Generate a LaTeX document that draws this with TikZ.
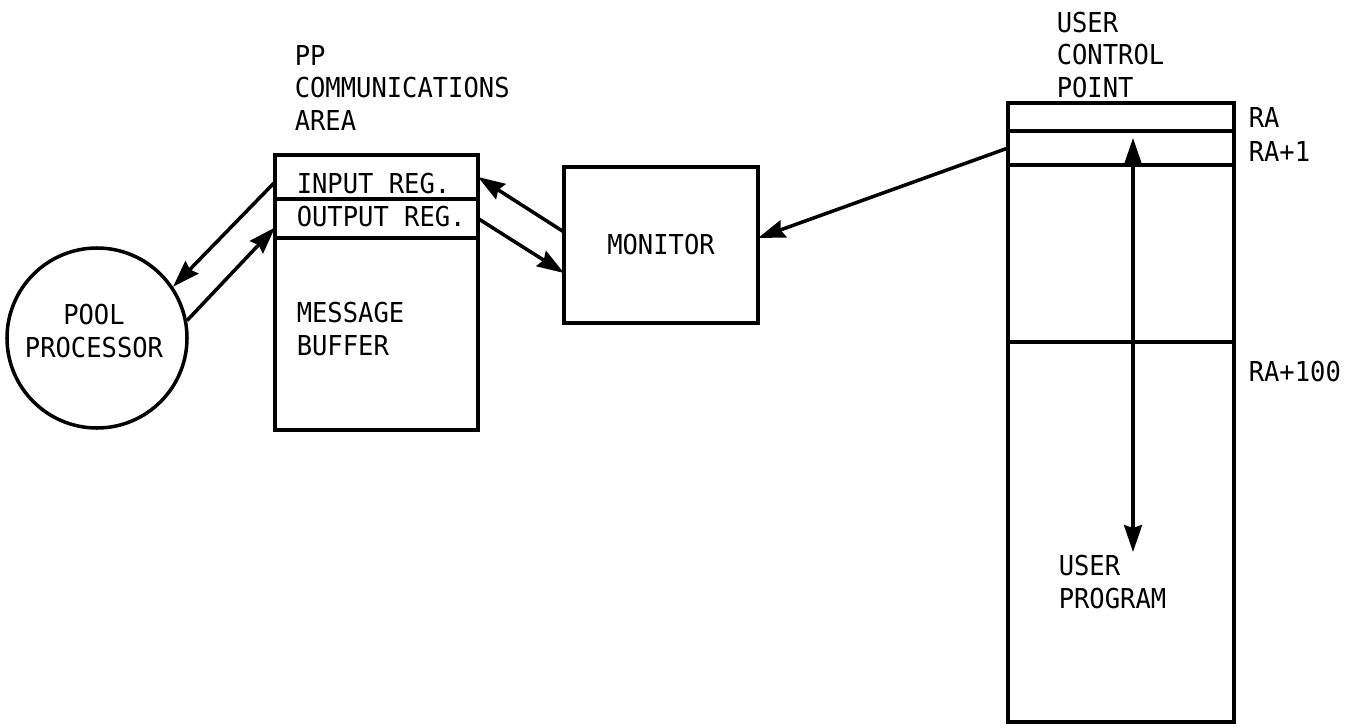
\documentclass[tikz,border=0pt]{standalone}
\usepackage{fontspec}
\newfontfamily\monofont{DejaVu Sans Mono}[FakeStretch=0.93]
\usetikzlibrary{arrows.meta,positioning}

\begin{document}
\begin{tikzpicture}[
    line width=1pt,
    every node/.style={font=\monofont\fontsize{7.8}{9.2}\selectfont},
    box/.style={draw, rectangle, inner sep=0pt, outer sep=0pt},
    txt/.style={inner sep=0pt, align=left},
    conn/.style={-{Stealth[length=0.27cm,width=0.18cm,inset=0.03cm]}},
    dbl/.style={{Stealth[length=0.27cm,width=0.18cm,inset=0.03cm]}-{Stealth[length=0.27cm,width=0.18cm,inset=0.03cm]}},
  ]

    % Page frame
    \useasboundingbox (0,0) rectangle (13.52,7.27);

    % Pool processor
    \node[draw, circle, minimum size=1.8cm, inner sep=0pt] (pool) at (0.97,3.89) {};
    \node[txt, align=center] (poollbl) at (0.94,3.96) {POOL\\PROCESSOR};

    % PP communications area
    \node[txt, anchor=west] (pptitle) at (2.93,6.39) {PP\\COMMUNICATIONS\\AREA};
    \node[box, minimum width=2.03cm, minimum height=0.44cm] (inreg) at (3.765,5.50) {};
    \node[box, minimum width=2.03cm, minimum height=0.39cm, below=0pt of inreg] (outreg) {};
    \node[box, minimum width=2.03cm, minimum height=1.92cm, below=0pt of outreg] (buffer) {};
    \node[txt, anchor=west] (inlbl) at (2.95,5.43) {INPUT REG.};
    \node[txt, anchor=west] (outlbl) at (2.95,5.10) {OUTPUT REG.};
    \node[txt, anchor=west] (buflbl) at (2.95,3.98) {MESSAGE\\BUFFER};

    % Monitor
    \node[box, minimum width=1.94cm, minimum height=1.56cm] (monitor) at (6.61,4.82) {MONITOR};

    % User control point
    \node[txt, anchor=west] (ucptitle) at (10.55,6.72) {USER\\CONTROL\\POINT};
    \node[box, minimum width=2.26cm, minimum height=0.28cm] (ra) at (11.21,6.10) {};
    \node[box, minimum width=2.26cm, minimum height=0.34cm, below=0pt of ra] (raone) {};
    \node[box, minimum width=2.26cm, minimum height=1.77cm, below=0pt of raone] (upper) {};
    \node[box, minimum width=2.26cm, minimum height=3.80cm, below=0pt of upper] (prog) {};
    \node[txt, anchor=west] (proglbl) at (10.57,1.45) {USER\\PROGRAM};

    % Address labels
    \node[txt, anchor=west] (ralbl) at (12.47,6.09) {RA};
    \node[txt, anchor=west] (raonelbl) at (12.47,5.75) {RA+1};
    \node[txt, anchor=west] (rahlbl) at (12.47,3.55) {RA+100};

    % Connectors
    \draw[conn] ([yshift=-0.05cm]inreg.west) -- (pool.34);
    \draw[conn] (pool.11) -- ([yshift=-0.09cm]outreg.west);
    \draw[conn] ([yshift=0.13cm]monitor.west) -- (inreg.east);
    \draw[conn] (outreg.east) -- ([yshift=-0.28cm]monitor.west);
    \draw[conn] (raone.west) -- ([yshift=0.07cm]monitor.east);

    % Program range
    \coordinate (ptop) at (11.33,5.89);
    \coordinate (pbot) at (11.33,1.75);
    \draw[dbl] (ptop) -- (pbot);

\end{tikzpicture}
\end{document}
